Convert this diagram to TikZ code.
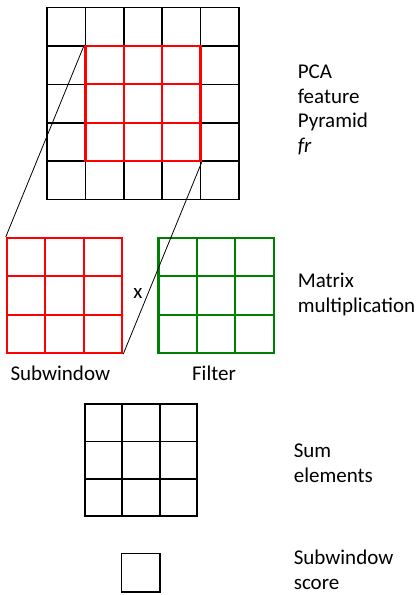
\documentclass[tikz,border=0pt]{standalone}
\usepackage{fontspec}
\setmainfont{Carlito}
\usetikzlibrary{positioning,matrix}

\tikzset{
    cellgrid/.style={matrix of nodes, nodes in empty cells,
        column sep=-\pgflinewidth, row sep=-\pgflinewidth,
        nodes={draw, minimum size=38.4pt, inner sep=0pt}},
    lbl/.style={align=left, anchor=base west, inner sep=0pt,
        font=\fontsize{21}{24.5}\selectfont},
}

\begin{document}
\begin{tikzpicture}[x=1pt, y=-1pt, line width=1.6pt]
        \useasboundingbox (0,0) rectangle (419,595);
        % feature pyramid with the window on it
        \matrix (pyr) [cellgrid] at (143,103.5) {
             & & & & \\
             & & & & \\
             & & & & \\
             & & & & \\
             & & & & \\};
        \matrix (win) [cellgrid, line width=2.2pt, nodes={draw=red}] at (pyr-3-3) {
             & & \\
             & & \\
             & & \\};
        % subwindow x filter
        \matrix (sub) [cellgrid, line width=2.2pt, nodes={draw=red}] at (64.5,295.5) {
             & & \\
             & & \\
             & & \\};
        \matrix (flt) [cellgrid, line width=2.2pt, nodes={draw=green!50!black}] at (216,295.5) {
             & & \\
             & & \\
             & & \\};
        \draw [line width=0.8pt] (win-1-1.north west) -- (sub-1-1.north west);
        \draw [line width=0.8pt] (win-3-3.south east) -- (sub-3-3.south east);
        \node (times) at (138,293) {\fontsize{21}{24.5}\selectfont x};
        % sum and score
        \matrix (sum) [cellgrid, nodes={minimum size=37.4pt}] at (141,460) {
             & & \\
             & & \\
             & & \\};
        \node (score) [draw, minimum size=38.4pt, inner sep=0pt] at (140.5,572.5) {};
        % labels (base = last line)
        \node (pcalbl) [lbl] at (297,152) {PCA\\feature\\Pyramid\\\textit{fr}};
        \node (multlbl) [lbl] at (297,312) {Matrix\\multiplication};
        \node (sublbl) [lbl, anchor=base] at (60.3,380) {Subwindow};
        \node (fltlbl) [lbl, anchor=base] at (214,380) {Filter};
        \node (sumlbl) [lbl] at (293,482) {Sum\\elements};
        \node (scorelbl) [lbl] at (293,589) {Subwindow\\score};
    \end{tikzpicture}
\end{document}
